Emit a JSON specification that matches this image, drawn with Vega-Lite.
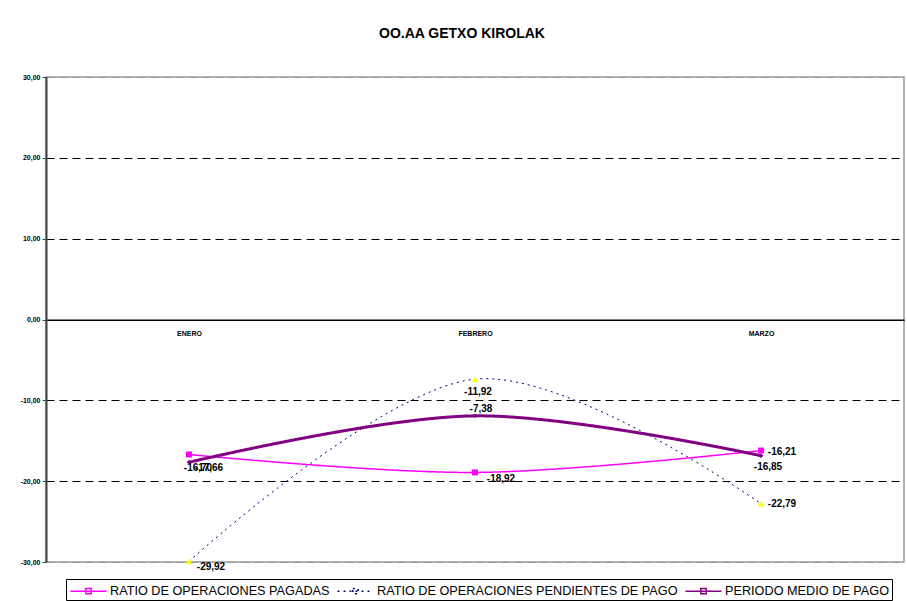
{
  "$schema": "https://vega.github.io/schema/vega-lite/v6.json",
  "autosize": "none",
  "width": 858,
  "height": 485,
  "padding": {"left": 46, "top": 77, "right": 3, "bottom": 39},
  "background": "white",
  "title": {
    "text": "OO.AA GETXO KIROLAK",
    "font": "Liberation Sans",
    "fontSize": 14,
    "fontWeight": "bold",
    "color": "black",
    "anchor": "middle",
    "dx": -13,
    "offset": 32
  },
  "config": {
    "locale": {"number": {"decimal": ",", "thousands": ".", "grouping": [3], "currency": ["", " €"], "minus": "-"}},
    "view": {"stroke": "#999999", "strokeWidth": 1.5},
    "font": "Liberation Sans"
  },
  "data": {
    "values": [
      {"mes": "ENERO", "serie": "RATIO DE OPERACIONES PAGADAS", "valor": -16.70},
      {"mes": "FEBRERO", "serie": "RATIO DE OPERACIONES PAGADAS", "valor": -18.92},
      {"mes": "MARZO", "serie": "RATIO DE OPERACIONES PAGADAS", "valor": -16.21},
      {"mes": "ENERO", "serie": "RATIO DE OPERACIONES PENDIENTES DE PAGO", "valor": -29.92},
      {"mes": "FEBRERO", "serie": "RATIO DE OPERACIONES PENDIENTES DE PAGO", "valor": -7.38},
      {"mes": "MARZO", "serie": "RATIO DE OPERACIONES PENDIENTES DE PAGO", "valor": -22.79},
      {"mes": "ENERO", "serie": "PERIODO MEDIO DE PAGO", "valor": -17.66},
      {"mes": "FEBRERO", "serie": "PERIODO MEDIO DE PAGO", "valor": -11.92},
      {"mes": "MARZO", "serie": "PERIODO MEDIO DE PAGO", "valor": -16.85}
    ]
  },
  "encoding": {
    "x": {
      "field": "mes", "type": "ordinal", "sort": ["ENERO", "FEBRERO", "MARZO"],
      "scale": {"type": "point", "padding": 0.5},
      "axis": {
        "title": null, "orient": "bottom", "offset": -242.5, "labelAngle": 0,
        "ticks": false, "labelPadding": 10, "labelFontSize": 7, "labelFontWeight": "bold",
        "labelColor": "black", "domainColor": "black", "domainWidth": 1, "grid": false,
        "labelFont": "Liberation Sans"
      }
    },
    "y": {
      "field": "valor", "type": "quantitative",
      "scale": {"domain": [-30, 30], "nice": false, "zero": false},
      "axis": {
        "title": null, "values": [-30, -20, -10, 0, 10, 20, 30], "format": ".2f",
        "labelFontSize": 7, "labelFontWeight": "bold", "labelColor": "black",
        "labelFont": "Liberation Sans",
        "domainColor": "#404040", "domainWidth": 2, "tickColor": "#404040", "tickSize": 4,
        "labelPadding": 2,
        "grid": true,
        "gridColor": {"condition": {"test": "abs(datum.value) == 30", "value": "#999999"}, "value": "black"},
        "gridDash": {"condition": {"test": "datum.value == 0", "value": []}, "value": [8, 5]},
        "gridWidth": 1
      }
    },
    "color": {
      "field": "serie", "type": "nominal",
      "scale": {
        "domain": ["RATIO DE OPERACIONES PAGADAS", "RATIO DE OPERACIONES PENDIENTES DE PAGO", "PERIODO MEDIO DE PAGO"],
        "range": ["#FF00FF", "#000080", "#800080"]
      },
      "legend": {
        "title": null, "orient": "none", "legendX": 20, "legendY": 502,
        "direction": "horizontal", "strokeColor": "black", "fillColor": "white",
        "padding": 2, "labelFontSize": 12.7, "labelFont": "Liberation Sans", "labelColor": "black",
        "labelLimit": 400, "columnPadding": 4, "labelOffset": 11.5, "symbolOffset": 10.5,
        "symbolType": "M-2,0H2M-0.3,-0.3H0.3V0.3H-0.3Z", "symbolSize": 324, "symbolStrokeWidth": 1.5
      }
    },
    "strokeDash": {
      "field": "serie", "type": "nominal",
      "scale": {
        "domain": ["RATIO DE OPERACIONES PAGADAS", "RATIO DE OPERACIONES PENDIENTES DE PAGO", "PERIODO MEDIO DE PAGO"],
        "range": [[1, 0], [2, 4], [1, 0]]
      }
    }
  },
  "layer": [
    {
      "transform": [{"filter": "datum.serie == 'RATIO DE OPERACIONES PAGADAS'"}],
      "mark": {"type": "line", "interpolate": "cardinal", "strokeWidth": 1.5}
    },
    {
      "transform": [{"filter": "datum.serie == 'RATIO DE OPERACIONES PENDIENTES DE PAGO'"}],
      "mark": {"type": "line", "interpolate": "cardinal", "strokeWidth": 1}
    },
    {
      "transform": [{"filter": "datum.serie == 'PERIODO MEDIO DE PAGO'"}],
      "mark": {"type": "line", "interpolate": "cardinal", "strokeWidth": 3}
    },
    {
      "transform": [{"filter": "datum.serie == 'RATIO DE OPERACIONES PAGADAS'"}],
      "mark": {"type": "point", "filled": true, "opacity": 1, "shape": "square", "size": 36, "fill": "#FF00FF"},
      "encoding": {"color": null, "strokeDash": null}
    },
    {
      "transform": [{"filter": "datum.serie == 'RATIO DE OPERACIONES PENDIENTES DE PAGO'"}],
      "mark": {"type": "point", "filled": true, "opacity": 1, "shape": "triangle-up", "size": 40, "fill": "#FFFF00"},
      "encoding": {"color": null, "strokeDash": null}
    },
    {
      "transform": [{"filter": "datum.serie == 'PERIODO MEDIO DE PAGO'"}],
      "mark": {"type": "point", "filled": true, "opacity": 1, "shape": "diamond", "size": 22, "fill": "#800080"},
      "encoding": {"color": null, "strokeDash": null}
    },
    {
      "transform": [{"filter": "datum.serie == 'RATIO DE OPERACIONES PAGADAS' && datum.mes == 'ENERO'"}],
      "mark": {"type": "text", "dx": 9, "dy": 14, "fontSize": 10, "fontWeight": "bold", "fill": "black"},
      "encoding": {"text": {"field": "valor", "format": ".2f"}, "color": null, "strokeDash": null}
    },
    {
      "transform": [{"filter": "datum.serie == 'RATIO DE OPERACIONES PAGADAS' && datum.mes == 'FEBRERO'"}],
      "mark": {"type": "text", "dx": 26, "dy": 7, "fontSize": 10, "fontWeight": "bold", "fill": "black"},
      "encoding": {"text": {"field": "valor", "format": ".2f"}, "color": null, "strokeDash": null}
    },
    {
      "transform": [{"filter": "datum.serie == 'RATIO DE OPERACIONES PAGADAS' && datum.mes == 'MARZO'"}],
      "mark": {"type": "text", "dx": 21, "dy": 1, "fontSize": 10, "fontWeight": "bold", "fill": "black"},
      "encoding": {"text": {"field": "valor", "format": ".2f"}, "color": null, "strokeDash": null}
    },
    {
      "transform": [{"filter": "datum.serie == 'RATIO DE OPERACIONES PENDIENTES DE PAGO' && datum.mes == 'ENERO'"}],
      "mark": {"type": "text", "dx": 22, "dy": 6, "fontSize": 10, "fontWeight": "bold", "fill": "black"},
      "encoding": {"text": {"field": "valor", "format": ".2f"}, "color": null, "strokeDash": null}
    },
    {
      "transform": [{"filter": "datum.serie == 'RATIO DE OPERACIONES PENDIENTES DE PAGO' && datum.mes == 'FEBRERO'"}],
      "mark": {"type": "text", "dx": 6, "dy": 30, "fontSize": 10, "fontWeight": "bold", "fill": "black"},
      "encoding": {"text": {"field": "valor", "format": ".2f"}, "color": null, "strokeDash": null}
    },
    {
      "transform": [{"filter": "datum.serie == 'RATIO DE OPERACIONES PENDIENTES DE PAGO' && datum.mes == 'MARZO'"}],
      "mark": {"type": "text", "dx": 21, "dy": 0, "fontSize": 10, "fontWeight": "bold", "fill": "black"},
      "encoding": {"text": {"field": "valor", "format": ".2f"}, "color": null, "strokeDash": null}
    },
    {
      "transform": [{"filter": "datum.serie == 'PERIODO MEDIO DE PAGO' && datum.mes == 'ENERO'"}],
      "mark": {"type": "text", "dx": 20, "dy": 6, "fontSize": 10, "fontWeight": "bold", "fill": "black"},
      "encoding": {"text": {"field": "valor", "format": ".2f"}, "color": null, "strokeDash": null}
    },
    {
      "transform": [{"filter": "datum.serie == 'PERIODO MEDIO DE PAGO' && datum.mes == 'FEBRERO'"}],
      "mark": {"type": "text", "dx": 3, "dy": -24, "fontSize": 10, "fontWeight": "bold", "fill": "black"},
      "encoding": {"text": {"field": "valor", "format": ".2f"}, "color": null, "strokeDash": null}
    },
    {
      "transform": [{"filter": "datum.serie == 'PERIODO MEDIO DE PAGO' && datum.mes == 'MARZO'"}],
      "mark": {"type": "text", "dx": 7, "dy": 11, "fontSize": 10, "fontWeight": "bold", "fill": "black"},
      "encoding": {"text": {"field": "valor", "format": ".2f"}, "color": null, "strokeDash": null}
    }
  ]
}
